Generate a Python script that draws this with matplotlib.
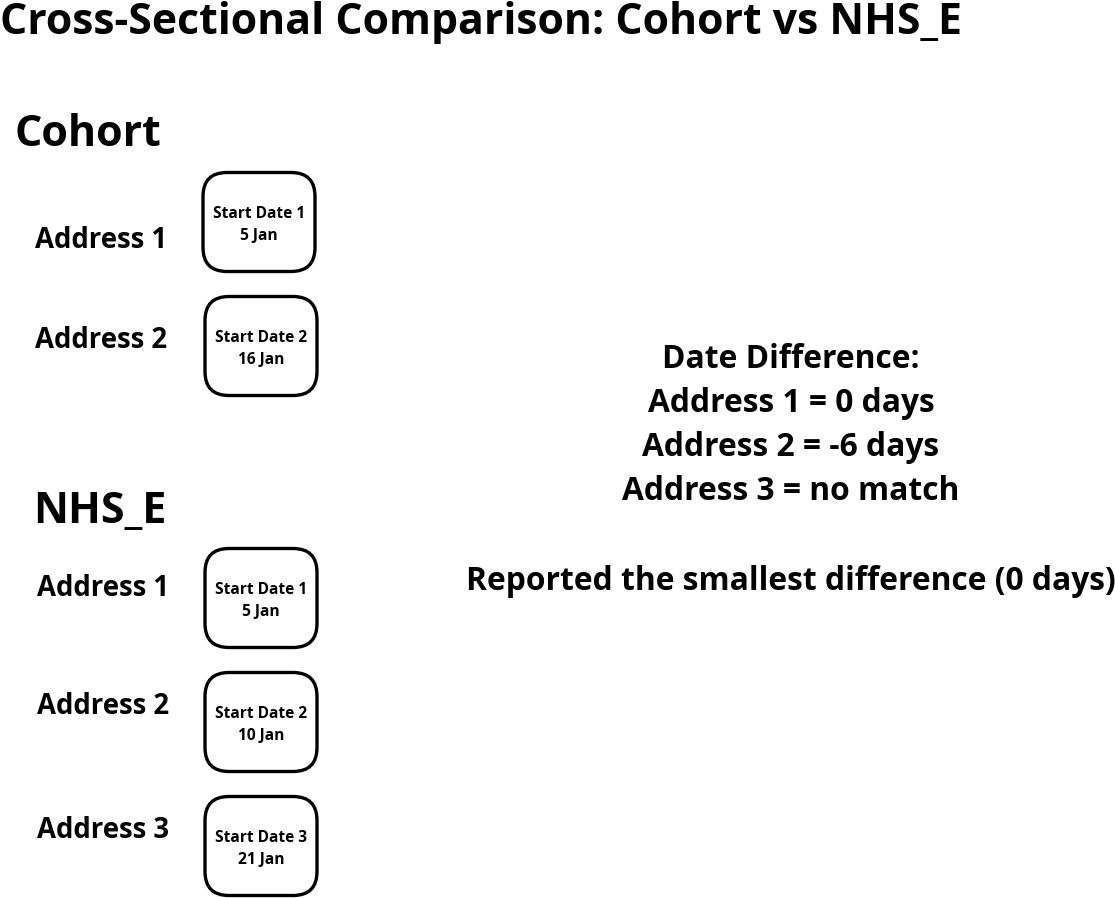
import matplotlib.pyplot as plt
from matplotlib.patches import FancyBboxPatch

plt.rcParams['font.family'] = ['Open Sans', 'DejaVu Sans']

title = "Cross-Sectional Comparison: Cohort vs NHS_E"
cohort_addresses = ["Address 1", "Address 2"]
cohort_dates = ["Start Date 1\n5 Jan", "Start Date 2\n16 Jan"]
nhs_addresses = ["Address 1", "Address 2", "Address 3"]
nhs_dates = ["Start Date 1\n5 Jan", "Start Date 2\n10 Jan", "Start Date 3\n21 Jan"]
diff_lines = ["Date Difference:", "Address 1 = 0 days", "Address 2 = -6 days",
              "Address 3 = no match"]
summary = "Reported the smallest difference (0 days)"

W, H = 1115, 898
fig = plt.figure(figsize=(W / 100, H / 100), dpi=100)
ax = fig.add_axes([0, 0, 1, 1])
ax.set_xlim(0, W)
ax.set_ylim(H, 0)
ax.axis('off')


def box(x, y, txt):
    # rounded box, x/y is the centre
    w, h, r = 112, 99, 24
    p = FancyBboxPatch((x - w / 2 + r, y - h / 2 + r), w - 2 * r, h - 2 * r,
                       boxstyle=f"round,pad={r}", fc='white', ec='black', lw=2.4)
    ax.add_patch(p)
    ax.text(x, y + 3, txt, ha='center', va='center', fontsize=11.2,
            fontweight='bold', linespacing=1.5)


ax.text(0, 22, title, ha='left', va='center', fontsize=30.8, fontweight='bold')

ax.text(88, 135, "Cohort", ha='center', va='center', fontsize=31, fontweight='bold')
for i, (a, d) in enumerate(zip(cohort_addresses, cohort_dates)):
    y = [222, 346][i]
    ax.text(101, [240, 340][i], a, ha='center', va='center', fontsize=19.8, fontweight='bold')
    box([259, 261][i], y, d)

ax.text(100, 511, "NHS_E", ha='center', va='center', fontsize=31, fontweight='bold')
for i, (a, d) in enumerate(zip(nhs_addresses, nhs_dates)):
    ax.text(103, [589, 706, 830][i], a, ha='center', va='center', fontsize=19.8,
            fontweight='bold')
    box(261, [598, 722, 846][i], d)

for i, line in enumerate(diff_lines):
    ax.text(791, 360 + 44 * i, line, ha='center', va='center', fontsize=22.9,
            fontweight='bold')
ax.text(791, 581, summary, ha='center', va='center', fontsize=22.9, fontweight='bold')

fig.savefig('out.png', dpi=100, facecolor='white')
